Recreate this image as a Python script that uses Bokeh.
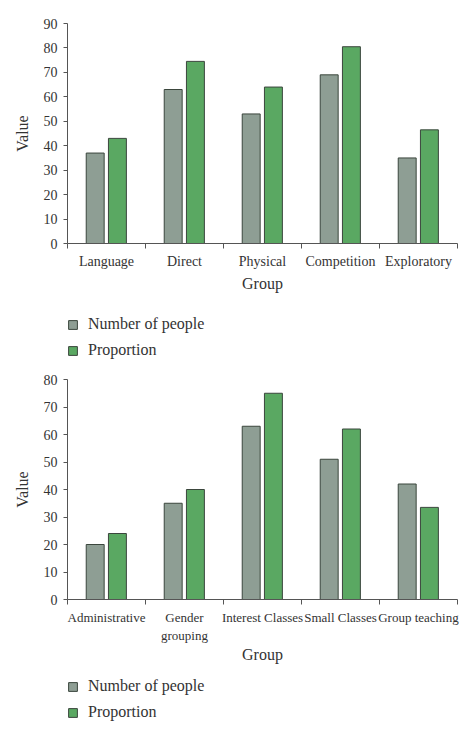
from bokeh.embed import file_html
from bokeh.layouts import column
from bokeh.models import ColumnDataSource, FixedTicker, Legend, LegendItem, Range1d
from bokeh.plotting import figure
from bokeh.resources import INLINE
from bokeh.transform import dodge

# top chart
groups_a = ["Language", "Direct", "Physical", "Competition", "Exploratory"]
people_a = [37, 63, 53, 69, 35]
proportion_a = [43, 74.5, 64, 80.5, 46.5]

# bottom chart
groups_b = ["Administrative", "Gender\ngrouping", "Interest Classes", "Small Classes", "Group teaching"]
people_b = [20, 35, 63, 51, 42]
proportion_b = [24, 40, 75, 62, 33.5]

series = ["Number of people", "Proportion"]

GRAY = "#8e9e94"
GREEN = "#5aa862"
EDGE = "#3b463d"
TEXT = "#333333"
FONT = "Liberation Serif"
COLORS = [GRAY, GREEN]


def bar_chart(groups, people, proportion, y_max, y_step, tick_size,
              top_border, bottom_border, group_standoff):
    src = ColumnDataSource(dict(
        x=[i + 0.5 for i in range(len(groups))],
        people=people,
        proportion=proportion,
    ))

    p = figure(
        frame_width=390, frame_height=220,
        x_range=Range1d(0, len(groups)),
        y_range=Range1d(0, y_max),
        output_backend="svg",
        toolbar_location=None,
        min_border_left=67, min_border_right=9,
        min_border_top=top_border, min_border_bottom=bottom_border,
        x_axis_label="Group", y_axis_label="Value",
    )
    p.outline_line_color = None
    p.grid.grid_line_color = None

    p.vbar(x=dodge("x", -0.145, range=p.x_range), top="people", width=0.23,
           source=src, fill_color=GRAY, line_color=EDGE, line_width=1)
    p.vbar(x=dodge("x", 0.14, range=p.x_range), top="proportion", width=0.23,
           source=src, fill_color=GREEN, line_color=EDGE, line_width=1)

    # labels at the centres, tick marks on the category boundaries
    p.xaxis.ticker = FixedTicker(ticks=[i + 0.5 for i in range(len(groups))],
                                 minor_ticks=list(range(len(groups) + 1)))
    p.xaxis.major_label_overrides = {i + 0.5: g for i, g in enumerate(groups)}
    p.xaxis.minor_tick_line_color = "#555555"
    p.xaxis.minor_tick_out = 5
    p.xaxis.minor_tick_in = 0
    p.xaxis.major_label_standoff = 4

    p.yaxis.ticker = FixedTicker(ticks=list(range(0, y_max + 1, y_step)))
    p.yaxis.minor_tick_line_color = None
    p.yaxis.major_tick_out = 4
    p.yaxis.major_tick_in = 0
    p.yaxis.major_label_standoff = 6

    p.axis.axis_line_color = "#555555"
    p.axis.major_tick_line_color = "#555555"
    p.xaxis.major_tick_line_color = None
    p.axis.major_label_text_font = FONT
    p.axis.major_label_text_color = TEXT
    p.xaxis.major_label_text_font_size = tick_size
    p.yaxis.major_label_text_font_size = "14px"
    p.axis.axis_label_text_font = FONT
    p.axis.axis_label_text_font_style = "normal"
    p.axis.axis_label_text_color = TEXT
    p.axis.axis_label_text_font_size = "16px"
    p.xaxis.axis_label_standoff = group_standoff
    p.yaxis.axis_label_standoff = 10
    return p


def legend_strip(height, top_gap):
    # separate strip under each chart that holds only the legend
    lf = figure(
        width=466, height=height,
        x_range=Range1d(0, 1), y_range=Range1d(0, 1),
        x_axis_type=None, y_axis_type=None,
        output_backend="svg", toolbar_location=None,
        min_border_left=67, min_border_top=top_gap,
        min_border_right=0, min_border_bottom=0,
    )
    lf.grid.grid_line_color = None
    lf.outline_line_color = None
    # key glyphs are zero-sized and far off the canvas; only the swatch shows
    keys = [lf.vbar(x=[-5], top=[-5], bottom=[-5], width=0,
                    fill_color=c, line_color=EDGE)
            for c in COLORS]
    lf.add_layout(Legend(
        items=[LegendItem(label=s, renderers=[r]) for s, r in zip(series, keys)],
        orientation="vertical", location="top_left",
        glyph_width=11, glyph_height=11, label_standoff=10, spacing=8,
        label_text_font=FONT, label_text_font_size="16px", label_text_color=TEXT,
        border_line_color=None, background_fill_alpha=0, padding=0, margin=0,
    ))
    return lf


p1 = bar_chart(groups_a, people_a, proportion_a, 90, 10, "14px", 23, 60, 3)
l1 = legend_strip(66, 12)
p2 = bar_chart(groups_b, people_b, proportion_b, 80, 10, "13px", 10, 70, 0)
l2 = legend_strip(69, 8)
p = column(p1, l1, p2, l2, spacing=0)

open("out.html", "w").write(file_html(p, INLINE))
